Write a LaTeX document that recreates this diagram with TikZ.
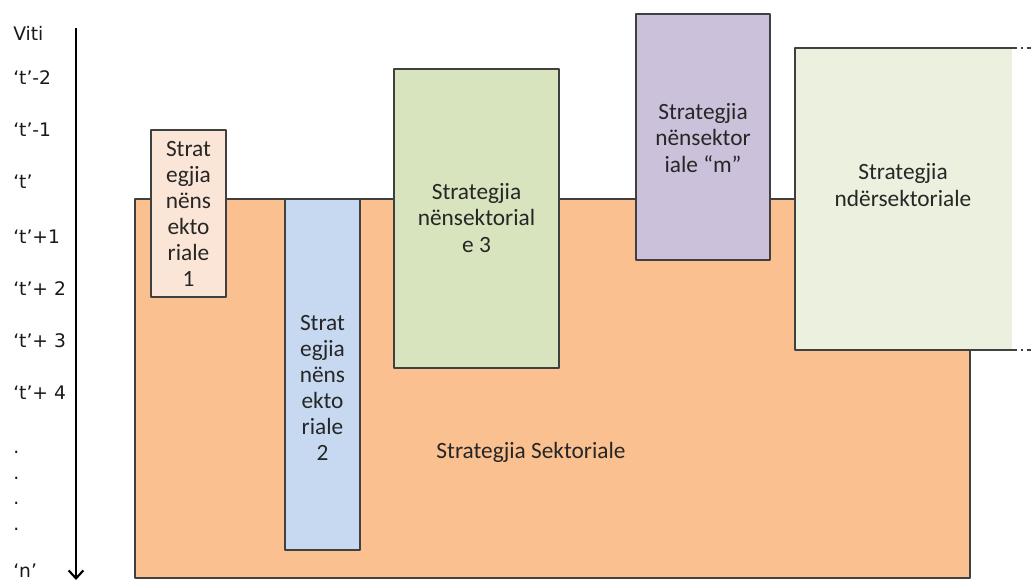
\documentclass[tikz,border=0pt]{standalone}
\usepackage{fontspec}
\setmainfont{Carlito}
\newfontfamily\axisfont{DejaVu Sans}
\usetikzlibrary{arrows.meta}
\definecolor{sektor}{HTML}{FAC090}
\definecolor{nen1}{HTML}{FBE5D6}
\definecolor{nen2}{HTML}{C6D9F1}
\definecolor{nen3}{HTML}{D7E4BD}
\definecolor{nenm}{HTML}{CCC1DA}
\definecolor{nder}{HTML}{EBF1DE}
\tikzset{
	kuti/.style={draw=black!75, line width=1pt},
	txt/.style={font=\fontsize{17.5}{19.6}\selectfont, align=center, text=black!85, inner sep=0pt},
	vit/.style={anchor=west, font=\axisfont\fontsize{14}{16}\selectfont, text=black!90, inner sep=0pt},
}
\begin{document}
\begin{tikzpicture}[x=0.75pt, y=-0.75pt, line join=round]
	\useasboundingbox (0,0) rectangle (1031,581);
	% boshti i viteve
	\foreach \lab/\yy [count=\i] in {Viti/33, ‘t’-2/78, ‘t’-1/130, ‘t’/182, ‘t’+1/237, ‘t’+ 2/289, ‘t’+ 3/341, ‘t’+ 4/393, ./452, ./478, ./503, ./529, ‘n’/571}
		\node[vit] (v\i) at (13,\yy) {\lab};
	\coordinate (afill) at (76,28);
	\coordinate (afund) at (76,580);
	\draw[line width=2.2pt, -{Straight Barb[length=6pt, width=11pt, line width=1.6pt]}] (afill) -- (afund);
	% strategjia sektoriale
	\draw[kuti, fill=sektor] (135,199) rectangle (970,578);
	\node[txt] (sek) at (531,452) {Strategjia Sektoriale};
	% strategjite nensektoriale
	\draw[kuti, fill=nen1] (151,130) rectangle (226,297);
	\node[txt] (n1) at (188.5,214) {Strat\\egjia\\nëns\\ekto\\riale\\1};
	\draw[kuti, fill=nen2] (285,199) rectangle (360,550);
	\node[txt] (n2) at (322.5,388) {Strat\\egjia\\nëns\\ekto\\riale\\2};
	\draw[kuti, fill=nen3] (394,69) rectangle (559,368);
	\node[txt] (n3) at (476.5,218) {Strategjia\\nënsektorial\\e 3};
	\draw[kuti, fill=nenm] (636,14) rectangle (770,260);
	\node[txt] (nm) at (703,138) {Strategjia\\nënsektor\\iale “m”};
	% strategjia ndersektoriale
	\fill[nder] (795,48) rectangle (1012,350);
	\draw[kuti] (1012,48) -- (795,48) -- (795,350) -- (1012,350);
	\draw[kuti, dash pattern=on 4pt off 3pt on 1pt off 3pt] (1012,48) -- (1031,48) (1012,350) -- (1031,350);
	\node[txt] (nd) at (903,185) {Strategjia\\ndërsektoriale};
\end{tikzpicture}
\end{document}
